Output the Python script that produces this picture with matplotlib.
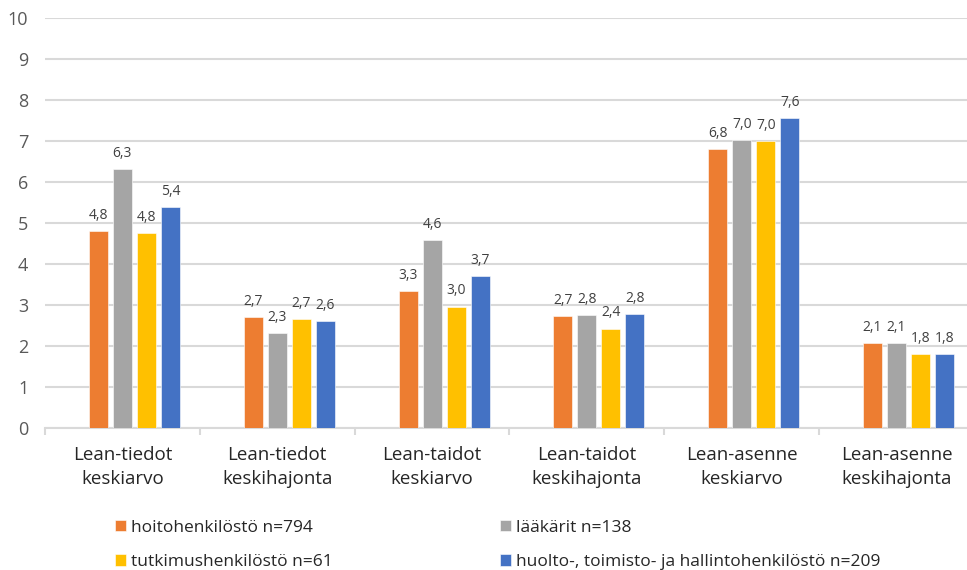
import matplotlib
matplotlib.use("Agg")
import matplotlib.pyplot as plt
import numpy as np

categories = ["Lean-tiedot\nkeskiarvo", "Lean-tiedot\nkeskihajonta", "Lean-taidot\nkeskiarvo",
              "Lean-taidot\nkeskihajonta", "Lean-asenne\nkeskiarvo", "Lean-asenne\nkeskihajonta"]
series_names = ["hoitohenkilöstö n=794", "lääkärit n=138", "tutkimushenkilöstö n=61",
                "huolto-, toimisto- ja hallintohenkilöstö n=209"]
hoito = [4.81, 2.70, 3.33, 2.73, 6.81, 2.07]
laakarit = [6.32, 2.32, 4.58, 2.75, 7.03, 2.06]
tutkimus = [4.76, 2.66, 2.96, 2.42, 7.00, 1.79]
huolto = [5.38, 2.61, 3.71, 2.78, 7.56, 1.79]
values = [hoito, laakarit, tutkimus, huolto]
colors = ["#ED7D31", "#A5A5A5", "#FFC000", "#4472C4"]
yticks = list(range(0, 11))

plt.rcParams['font.family'] = ['Open Sans', 'DejaVu Sans']

fig = plt.figure(figsize=(9.67, 5.70), dpi=100)
ax = fig.add_axes([45/967, 142.3/570, (974-45)/967, 409.4/570])

x = np.arange(len(categories))
slot = 24/155
width = 19/155
bars = []
for i, (vals, c) in enumerate(zip(values, colors)):
    b = ax.bar(x + (i - 1) * slot, vals, width, color=c, edgecolor='white', linewidth=0.4, zorder=3)
    bars.append(b)
    for xi, v in zip(x + (i - 1) * slot, vals):
        ax.text(xi, v + 0.2, f"{v:.1f}".replace('.', ','), ha='center', va='bottom',
                fontsize=10, color='#404040', zorder=4)

ax.set_xlim(-0.5, len(categories) - 0.5)
ax.set_ylim(0, 10)
ax.set_yticks(yticks)
ax.set_yticklabels([str(t) for t in yticks], fontsize=13, color='#595959')
ax.yaxis.grid(True, color='#D9D9D9', linewidth=1.5, zorder=0)
ax.tick_params(axis='y', length=0, pad=12)

ax.set_xticks(x)
ax.set_xticklabels(categories, fontsize=13.5, color='#262626', linespacing=1.48)
ax.tick_params(axis='x', length=0, pad=13)
ax.set_xticks(np.arange(-0.5, len(categories)), minor=True)
ax.tick_params(axis='x', which='minor', length=5, color='#D9D9D9', width=1.5)

for s in ['top', 'right', 'left']:
    ax.spines[s].set_visible(False)
ax.spines['bottom'].set_color('#D9D9D9')
ax.spines['bottom'].set_linewidth(1.5)

order = [0, 2, 1, 3]
leg = fig.legend([bars[i] for i in order], [series_names[i] for i in order],
                 ncol=2, loc='upper left', bbox_to_anchor=(99/967, 1 - 504/570),
                 frameon=False, fontsize=12.5, handlelength=0.65, handleheight=0.65,
                 handletextpad=0.3, columnspacing=9.6, labelspacing=1.05,
                 labelcolor='#262626')

fig.savefig("out.png", dpi=100)
